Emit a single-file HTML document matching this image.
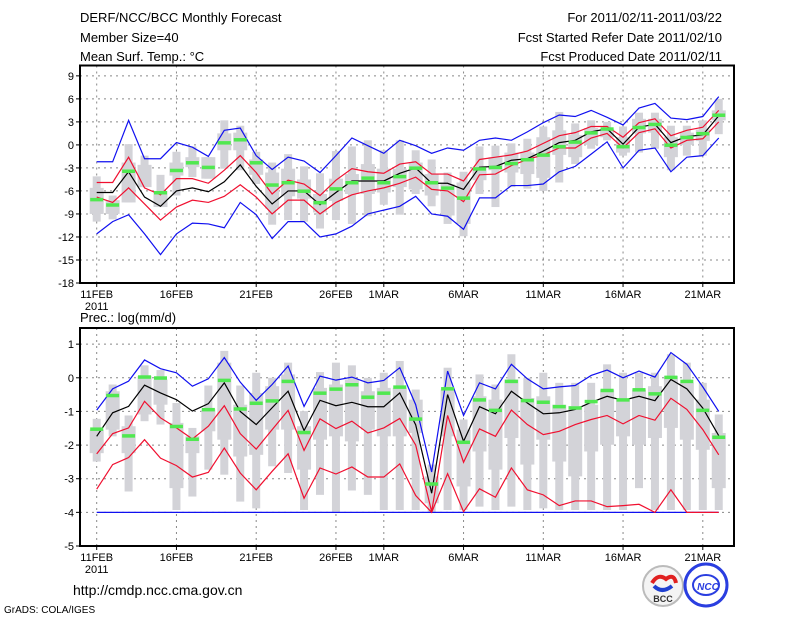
<!DOCTYPE html>
<html><head><meta charset="utf-8"><style>
html,body{margin:0;padding:0;background:#fff;}
svg{display:block;font-family:"Liberation Sans",sans-serif;}
</style></head><body>
<svg id="chart" width="800" height="618" xmlns="http://www.w3.org/2000/svg">
<g font-size="13" fill="#000">
<text x="80" y="22">DERF/NCC/BCC Monthly Forecast</text>
<text x="80" y="42">Member Size=40</text>
<text x="80" y="61">Mean Surf. Temp.: °C</text>
<text x="722" y="22" text-anchor="end">For 2011/02/11-2011/03/22</text>
<text x="722" y="42" text-anchor="end">Fcst Started Refer Date 2011/02/10</text>
<text x="722" y="61" text-anchor="end">Fcst Produced Date 2011/02/11</text>
<text x="80" y="322">Prec.: log(mm/d)</text>
<text x="73" y="595" font-size="14">http://cmdp.ncc.cma.gov.cn</text>
<text x="4" y="613" font-size="10">GrADS: COLA/IGES</text>
</g>
<g>
<circle cx="663" cy="586" r="20" fill="#f4f4f4" stroke="#bbb" stroke-width="2"/>
<path d="M652 583 q6 -10 14 -4 q8 -6 10 4" fill="none" stroke="#e02020" stroke-width="4"/>
<path d="M654 586 q8 8 18 0" fill="none" stroke="#2040d0" stroke-width="4"/>
<text x="663" y="602" font-size="9" font-weight="bold" text-anchor="middle" fill="#333">BCC</text>
</g>
<g>
<circle cx="706" cy="585" r="21" fill="#fff" stroke="#2a3ee0" stroke-width="3"/>
<ellipse cx="706" cy="585" rx="13" ry="10" fill="none" stroke="#2a3ee0" stroke-width="2"/>
<text x="708" y="590" font-size="10" font-weight="bold" font-style="italic" text-anchor="middle" fill="#2a3ee0">NCC</text>
</g>
<g id="p1"></g>
<g id="p2"></g>
</svg>
<script>
const tempMax=[-2.2,-2.2,3.2,-1.8,-1.8,0.3,-0.3,-1.5,1.9,2.2,-1.4,-3.2,-1.6,-2.1,-3.6,-1.4,0.9,-0.1,-1.1,0.6,-0.1,-1.1,-0.4,-0.7,0.6,0.9,0.6,1.7,2.9,3.9,3.7,4.5,3.6,2.6,4.8,5.4,3.5,3.3,3.7,6.3];
const tempUp=[-4.9,-4.9,-1.6,-5.6,-6.5,-4.4,-4.4,-5.0,-3.3,-1.4,-3.6,-6.4,-4.6,-5.1,-6.6,-4.6,-3.1,-3.5,-3.7,-2.5,-2.2,-3.8,-3.8,-4.7,-1.9,-1.6,-1.3,-0.8,0.2,1.2,1.6,2.4,2.4,1.0,2.9,3.4,1.2,1.9,2.3,4.5];
const tempMean=[-6.2,-6.2,-3.5,-6.8,-8.0,-6.0,-5.6,-6.1,-4.8,-2.6,-5.4,-7.7,-6.0,-6.0,-7.8,-6.2,-4.7,-4.7,-4.7,-3.7,-3.0,-5.0,-5.0,-5.8,-2.9,-2.8,-2.0,-1.8,-0.8,0.3,0.6,1.7,2.1,0.1,2.3,2.7,0.3,1.1,1.3,3.8];
const tempLow=[-6.8,-7.5,-5.6,-7.7,-9.8,-8.1,-7.2,-7.5,-6.7,-5.2,-6.8,-9.0,-7.2,-7.2,-9.0,-7.5,-6.5,-6.0,-5.6,-5.0,-4.2,-5.8,-6.0,-7.4,-3.9,-3.8,-2.7,-1.9,-1.3,-0.4,-0.4,0.9,1.5,-0.4,1.6,2.1,-0.4,0.6,0.8,3.0];
const tempMin=[-11.6,-10.0,-9.1,-11.6,-14.3,-11.6,-10.2,-10.3,-10.8,-7.5,-9.1,-12.2,-10.0,-10.0,-12.0,-11.6,-10.6,-9.0,-8.5,-8.0,-6.7,-9.0,-9.3,-11.0,-6.9,-6.9,-5.3,-5.3,-5.1,-3.5,-2.8,-1.2,0.4,-3.0,-0.7,-0.4,-3.5,-1.6,-1.4,0.9];
const tempObs=[-7.1,-7.8,-3.4,null,-6.2,-3.3,-2.3,-2.9,0.3,0.7,-2.3,-5.2,-4.9,-6.0,-7.5,-5.7,-4.9,-4.3,-4.9,-4.1,-3.0,-4.9,-5.6,-6.9,-3.1,-2.9,-2.4,-1.9,-1.3,-0.2,0.4,1.6,2.1,-0.2,2.3,2.7,0.0,1.0,1.5,3.9];
const tempWhiskHi=[-4.1,-6.6,0.1,-1.4,-3.9,-0.9,-0.2,-1.6,3.2,2.5,-0.9,-2.3,-1.2,-2.8,-3.7,-0.8,-0.2,0.6,-0.7,0.6,-0.7,-1.9,-3.6,-3.5,-0.2,-0.1,0.2,0.8,2.4,4.3,2.8,3.2,3.0,2.4,4.2,4.2,2.5,2.5,3.2,6.0];
const tempWhiskLo=[-10.0,-9.7,-7.5,-5.5,-8.1,-6.6,-4.2,-4.4,-3.1,-3.3,-5.1,-10.4,-9.8,-10.0,-10.9,-9.8,-10.3,-9.3,-7.8,-9.1,-6.4,-8.0,-10.3,-11.9,-6.4,-8.1,-5.5,-5.7,-6.0,-4.9,-2.5,-0.5,0.6,-1.4,-1.0,-0.5,-3.3,-1.4,-1.4,1.4];
const tempQ3=[-5.6,-7.2,-2.3,-2.6,-6.0,-2.3,-1.6,-1.6,1.5,1.6,-1.9,-3.6,-3.1,-4.5,-6.4,-4.4,-3.8,-2.5,-3.1,-3.1,-2.3,-3.8,-5.1,-4.9,-2.9,-1.6,-1.0,-1.0,1.0,1.9,1.3,2.2,2.1,1.0,3.4,3.4,1.0,1.6,2.0,4.5];
const tempQ1=[-9.0,-9.0,-7.5,-5.5,-8.1,-4.0,-2.9,-4.4,-0.7,-0.7,-3.9,-8.3,-6.7,-7.0,-8.8,-7.3,-6.4,-6.4,-6.2,-5.5,-5.8,-6.6,-9.2,-10.3,-4.6,-3.3,-3.6,-3.8,-4.3,-1.3,-1.6,0.0,1.0,-1.0,1.5,1.6,-1.6,0.0,0.5,3.2];
const precMax=[-0.96,-0.33,-0.1,0.53,0.27,0.15,-0.25,-0.03,0.6,-0.13,-0.67,-0.2,0.35,-0.85,0.05,-0.07,0.02,-0.15,-0.08,0.3,-0.8,-2.8,0.2,-1.12,-0.15,-0.33,0.4,-0.03,-0.33,-0.27,-0.23,0.07,0.23,0.0,0.2,0.02,0.75,0.4,-0.27,-1.0];
const precUp=[-2.26,-1.66,-1.49,-0.7,-1.19,-1.49,-1.82,-1.44,-0.83,-1.66,-2.12,-1.54,-0.97,-2.16,-1.22,-1.51,-1.29,-1.64,-1.49,-1.21,-2.0,-3.98,-1.12,-2.51,-1.52,-1.74,-0.96,-1.39,-1.69,-1.59,-1.39,-1.24,-1.12,-1.37,-1.12,-1.26,-0.61,-0.94,-1.54,-2.29];
const precMean=[-1.74,-1.04,-0.85,-0.22,-0.45,-0.65,-0.99,-0.77,-0.15,-1.0,-1.39,-0.89,-0.4,-1.57,-0.67,-0.83,-0.73,-0.86,-0.86,-0.45,-1.4,-3.43,-0.5,-1.89,-0.86,-1.07,-0.4,-0.75,-1.07,-1.04,-0.94,-0.73,-0.55,-0.67,-0.55,-0.68,-0.05,-0.33,-0.9,-1.72];
const precLow=[-3.31,-2.58,-2.37,-1.84,-2.39,-2.61,-2.95,-2.81,-2.09,-2.83,-3.33,-2.78,-2.26,-3.58,-2.68,-2.86,-2.65,-2.95,-2.95,-2.56,-3.5,-4.0,-2.85,-3.98,-3.3,-3.55,-2.68,-3.33,-3.48,-3.8,-3.66,-3.66,-3.83,-3.8,-3.76,-4.0,-3.33,-4.0,-4.0,-4.0];
const precMin=[-4,-4,-4,-4,-4,-4,-4,-4,-4,-4,-4,-4,-4,-4,-4,-4,-4,-4,-4,-4,-4,-4,-4,-4,-4,-4,-4,-4,-4,-4,-4,-4,-4,-4,-4,-4,-4,-4,-4,-4];
const precObs=[-1.52,-0.52,-1.72,0.03,0.0,-1.44,-1.82,-0.94,-0.07,-0.92,-0.75,-0.68,-0.1,-1.62,-0.45,-0.33,-0.2,-0.57,-0.45,-0.27,-1.22,-3.15,-0.32,-1.91,-0.65,-0.96,-0.1,-0.67,-0.72,-0.85,-0.89,-0.7,-0.37,-0.65,-0.35,-0.47,0.02,-0.1,-0.96,-1.76];
const precWhiskHi=[-1.22,-0.2,-1.12,0.37,0.23,-0.75,-1.49,-0.23,0.8,-0.23,0.15,0.0,0.45,-0.99,0.17,0.45,0.37,0.0,0.15,0.5,-0.35,-2.58,0.3,-1.24,0.1,-0.2,0.7,0.0,0.15,-0.15,-0.15,-0.15,0.4,0.15,0.15,0.15,0.7,0.45,-0.15,-1.09];
const precWhiskLo=[-2.49,-1.74,-3.38,-1.29,-1.39,-3.93,-3.53,-2.73,-2.88,-3.68,-3.88,-2.63,-2.83,-3.93,-3.48,-3.98,-3.35,-3.48,-3.93,-3.93,-3.93,-4.0,-3.93,-3.93,-3.83,-3.93,-3.83,-3.93,-3.88,-3.93,-3.93,-3.93,-3.93,-3.93,-3.28,-3.93,-3.93,-3.93,-3.93,-3.93];
const precQ3=[-1.54,-0.4,-1.44,0.05,-0.05,-1.34,-1.74,-0.94,0.45,-0.8,-0.45,-0.25,0.1,-1.44,-0.3,-0.2,-0.05,-0.4,-0.3,-0.3,-0.65,-2.93,-0.35,-1.54,-0.55,-0.65,-0.05,-0.6,-0.55,-0.8,-0.84,-0.8,-0.35,-0.65,-0.35,-0.25,0.05,-0.15,-0.65,-1.64];
const precQ1=[-2.24,-1.54,-2.24,-1.09,-0.8,-3.28,-2.24,-1.59,-1.84,-2.34,-2.29,-1.54,-1.54,-2.73,-1.84,-1.74,-1.89,-1.54,-1.74,-1.74,-1.64,-3.73,-1.74,-3.23,-2.19,-2.73,-1.79,-2.58,-1.84,-2.49,-2.93,-2.19,-1.99,-1.74,-1.99,-1.79,-1.49,-1.84,-2.14,-3.28];
const tempTicks=[9,6,3,0,-3,-6,-9,-12,-15,-18];
const precTicks=[1,0,-1,-2,-3,-4,-5];
const dateLabels=["11FEB","16FEB","21FEB","26FEB","1MAR","6MAR","11MAR","16MAR","21MAR"];
const dateDays=[0,5,10,15,18,23,28,33,38];

const NS="http://www.w3.org/2000/svg";
const X0=80,X1=734;
function xd(d){return 96.7+d*15.95;}
function mk(tag,attrs,parent){const e=document.createElementNS(NS,tag);for(const k in attrs)e.setAttribute(k,attrs[k]);parent.appendChild(e);return e;}

function panel(g,top,bottom,vTop,vBot,ticks,S){
  const ys=v=>top+(vTop-v)/(vTop-vBot)*(bottom-top);
  // grid
  ticks.forEach(t=>{
    const y=ys(t);
    const l=mk('line',{x1:X0,x2:X1,y1:y,y2:y,stroke:'#888','stroke-dasharray':'2,4','stroke-width':1},g);
    
    
    const tk=mk('line',{x1:X0-4,x2:X0,y1:y,y2:y,stroke:'#000'},g);
    
    
    const tx=mk('text',{x:X0-6,y:y+4,'font-size':11,'text-anchor':'end'},g);
    tx.textContent=t;
    
    
  });
  dateDays.forEach((d,i)=>{
    const x=xd(d);
    const l=mk('line',{x1:x,x2:x,y1:top,y2:bottom,stroke:'#888','stroke-dasharray':'2,4'},g);
    
    
    const tk=mk('line',{x1:x,x2:x,y1:bottom,y2:bottom+4,stroke:'#000'},g);
    
    
    const tx=mk('text',{x:x,y:bottom+15,'font-size':11,'text-anchor':'middle'},g);
    tx.textContent=dateLabels[i];
    
    
  });
  const yr=mk('text',{x:xd(0),y:bottom+27,'font-size':11,'text-anchor':'middle'},g);
  yr.textContent='2011';
  
  
  // boxes
  S.q3.forEach((v,d)=>{
    const x=xd(d);
    const w=mk('rect',{x:x-4,y:ys(S.wh[d]),width:8,height:ys(S.wl[d])-ys(S.wh[d]),fill:'#d3d3d8'},g);
    
    
    const b=mk('rect',{x:x-7,y:ys(S.q3[d]),width:14,height:ys(S.q1[d])-ys(S.q3[d]),fill:'#d3d3d8'},g);
    
    
  });
  const line=(arr,col,name)=>{
    const p=mk('polyline',{points:arr.map((v,d)=>xd(d)+','+ys(v)).join(' '),fill:'none',stroke:col,'stroke-width':1.2},g);
    
    
  };
  line(S.max,'#1010f0','max-line');
  line(S.min,'#1010f0','min-line');
  line(S.up,'#f01030','upper-line');
  line(S.low,'#f01030','lower-line');
  line(S.mean,'#000','mean-line');
  S.obs.forEach((v,d)=>{
    if(v===null)return;
    const r=mk('rect',{x:xd(d)-6.5,y:ys(v)-1.5,width:13,height:3.5,fill:'#50e850'},g);
    
    
  });
  const f=mk('rect',{x:X0,y:top,width:X1-X0,height:bottom-top,fill:'none',stroke:'#000','stroke-width':2},g);
  
  
}
panel(document.getElementById('p1'),65.5,283,10.35,-18,tempTicks,{max:tempMax,up:tempUp,mean:tempMean,low:tempLow,min:tempMin,obs:tempObs,wh:tempWhiskHi,wl:tempWhiskLo,q3:tempQ3,q1:tempQ1});
panel(document.getElementById('p2'),328,546,1.48,-5,precTicks,{max:precMax,up:precUp,mean:precMean,low:precLow,min:precMin,obs:precObs,wh:precWhiskHi,wl:precWhiskLo,q3:precQ3,q1:precQ1});
</script>
</body></html>
